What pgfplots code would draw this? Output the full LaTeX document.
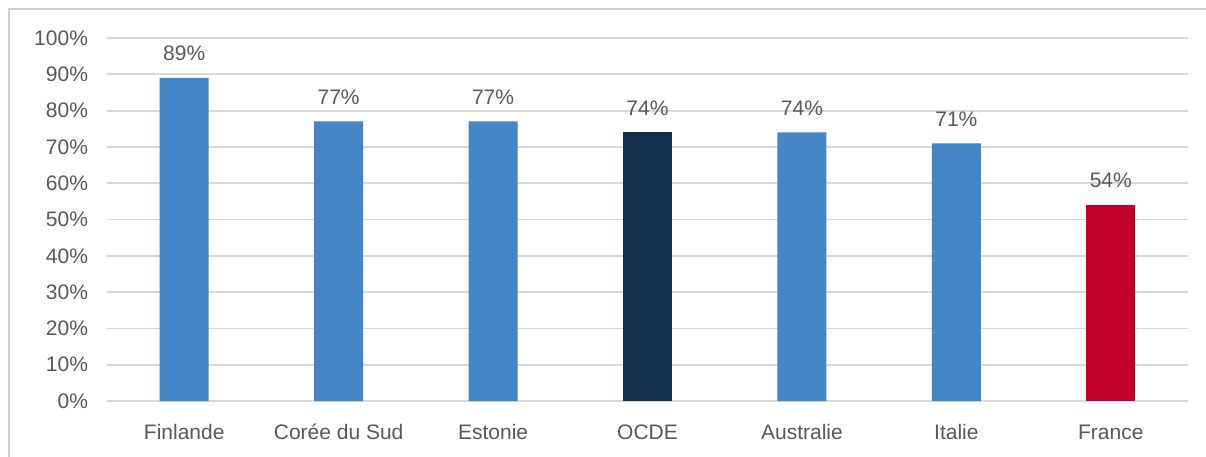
\documentclass[border=0pt]{standalone}
\usepackage{fontspec}
\setmainfont{Liberation Sans}
\usepackage{pgfplots}
\pgfplotsset{compat=1.18}

\definecolor{barblue}{HTML}{4485C5}
\definecolor{barnavy}{HTML}{12304D}
\definecolor{barred}{HTML}{C0002A}
\definecolor{txtgray}{HTML}{595959}
\definecolor{gridgray}{HTML}{D9D9D9}
\definecolor{framegray}{HTML}{D0D0D0}

\begin{document}
\begin{tikzpicture}
  \useasboundingbox (0pt,0pt) rectangle (603pt,228pt);
  \fill[white] (0pt,0pt) rectangle (603pt,228pt);
  \draw[framegray, line width=1pt] (4.5pt,-5pt) -- (4.5pt,223.5pt) -- (610pt,223.5pt);
  \begin{axis}[
    at={(53.5pt,27.5pt)}, anchor=south west,
    scale only axis,
    width=540.5pt, height=181.5pt,
    ymin=0, ymax=100,
    xmin=-0.5, xmax=6.5,
    ytick={0,10,...,100},
    yticklabels={0\%,10\%,20\%,30\%,40\%,50\%,60\%,70\%,80\%,90\%,100\%},
    xtick={0,...,6},
    xticklabels={Finlande,Corée du Sud,Estonie,OCDE,Australie,Italie,France},
    axis line style={draw=none},
    tick style={draw=none},
    ymajorgrids,
    grid style={gridgray, line width=0.9pt},
    ticklabel style={text=txtgray, font=\fontsize{10.5}{12}\selectfont},
    yticklabel style={xshift=-6pt},
    xticklabel style={yshift=-4pt, text depth=0.25em, text height=0.75em},
    /pgf/number format/assume math mode=true,
    ybar, bar width=24.5pt, bar shift=0pt,
    nodes near coords={\pgfmathprintnumber{\pgfplotspointmeta}\%},
    every node near coord/.append style={text=txtgray, font=\fontsize{10.5}{12}\selectfont, yshift=5pt},
    clip=false,
  ]
    \addplot[fill=barblue, draw=none] coordinates {(0,89) (1,77) (2,77) (4,74) (5,71)};
    \addplot[fill=barnavy, draw=none] coordinates {(3,74)};
    \addplot[fill=barred, draw=none] coordinates {(6,54)};
  \end{axis}
\end{tikzpicture}
\end{document}
